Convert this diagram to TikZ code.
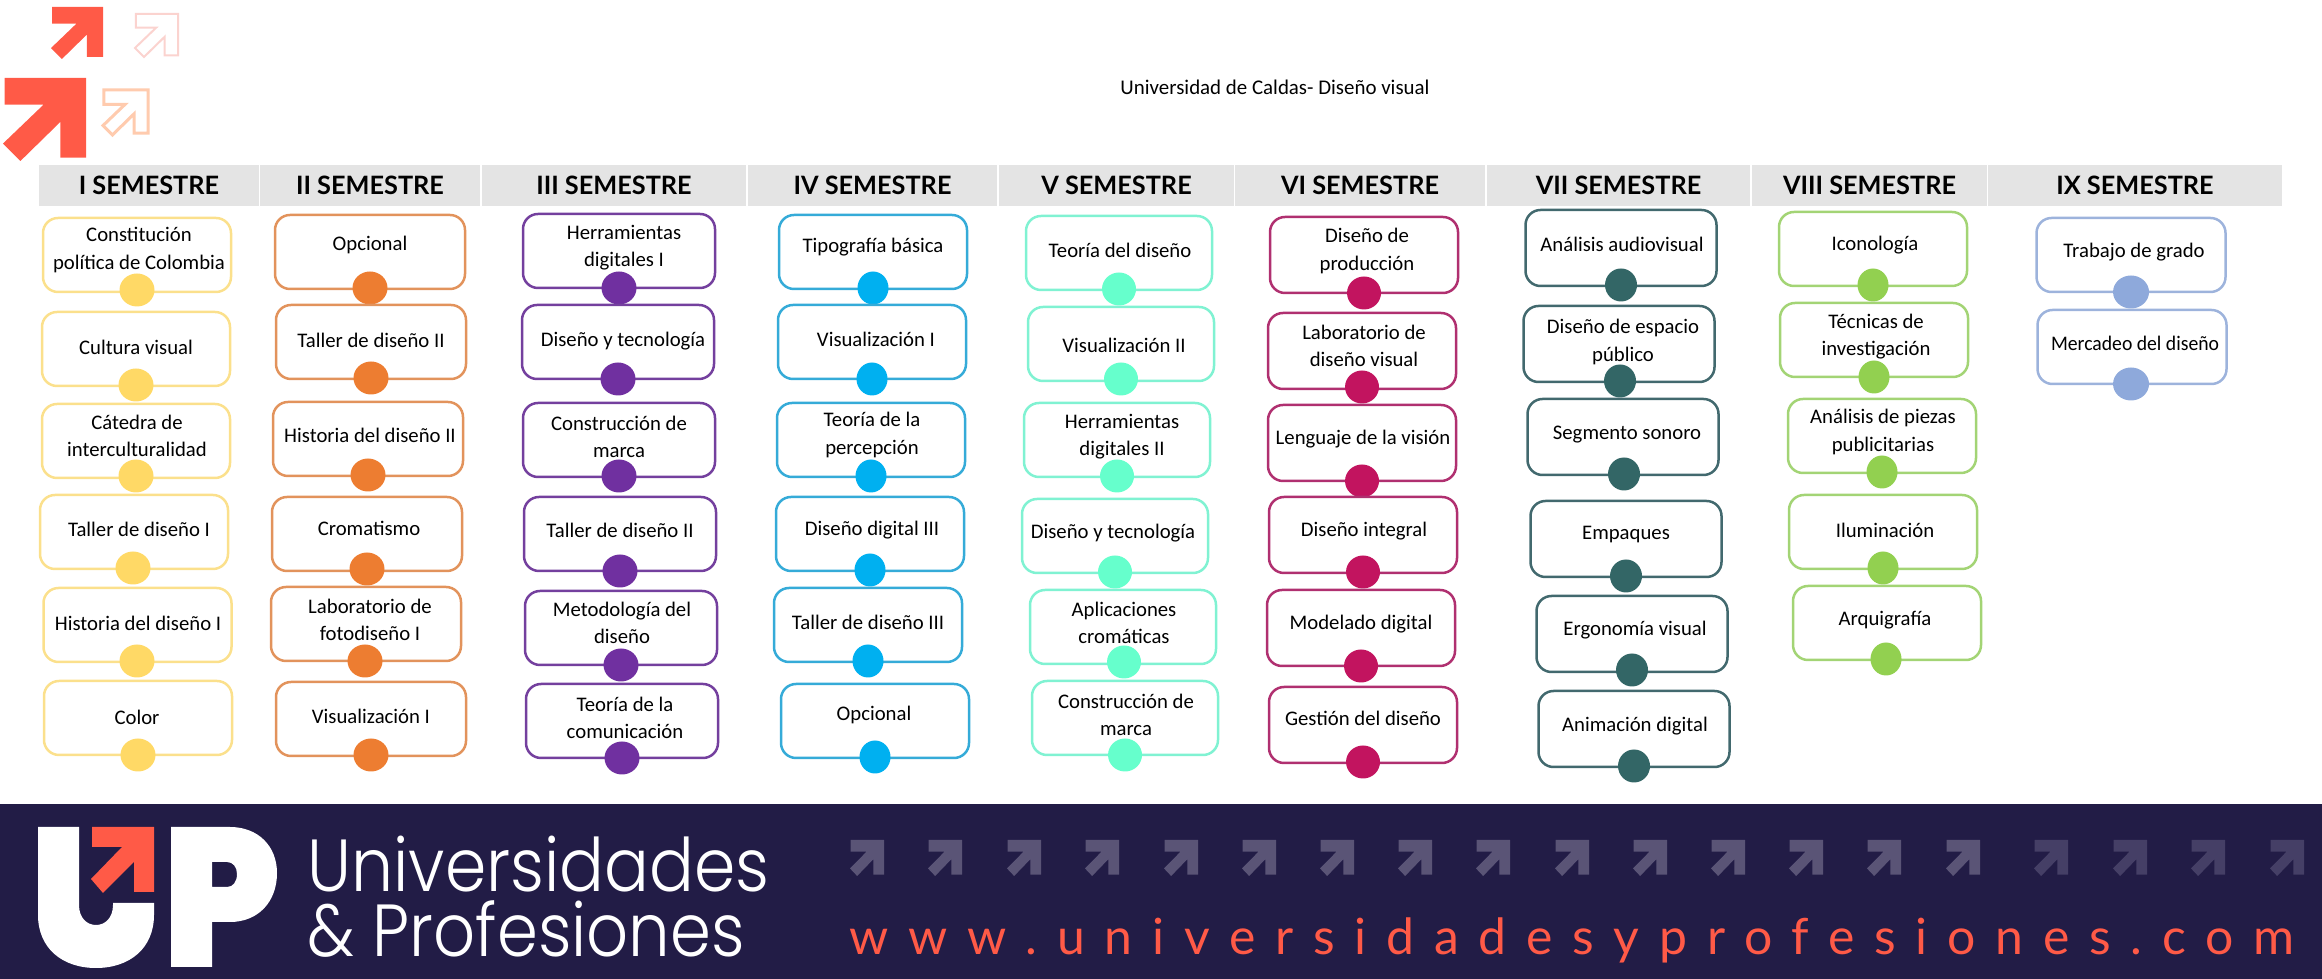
\documentclass[tikz,border=0pt]{standalone}
\usepackage{fontspec}
\setmainfont{Carlito}
\newfontfamily\headfont{Lato}
\newfontfamily\logofont{Poppins Light}
\newfontfamily\webfont[LetterSpace=39.7]{Lato}
\usetikzlibrary{shapes.geometric}

\definecolor{headgrey}{HTML}{E4E4E4}
\definecolor{arrowred}{HTML}{FF5A47}
\definecolor{barblue}{HTML}{221C46}
\definecolor{palepink}{HTML}{FBD3CF}
\definecolor{palepeach}{HTML}{FFCBAE}
\definecolor{barlight}{HTML}{5A5476}
\definecolor{bardim}{HTML}{453F66}
\definecolor{edgeA}{HTML}{FBE08C}\definecolor{dotA}{HTML}{FFD966}
\definecolor{edgeB}{HTML}{E2935C}\definecolor{dotB}{HTML}{ED7D31}
\definecolor{edgeC}{HTML}{74409E}\definecolor{dotC}{HTML}{7030A0}
\definecolor{edgeD}{HTML}{35ABD8}\definecolor{dotD}{HTML}{00B0F0}
\definecolor{edgeE}{HTML}{80F2D2}\definecolor{dotE}{HTML}{66FFCC}
\definecolor{edgeF}{HTML}{B03070}\definecolor{dotF}{HTML}{C2145F}
\definecolor{edgeG}{HTML}{42696E}\definecolor{dotG}{HTML}{336666}
\definecolor{edgeH}{HTML}{A3D475}\definecolor{dotH}{HTML}{92D050}
\definecolor{edgeI}{HTML}{9DB3DC}\definecolor{dotI}{HTML}{8EA9DB}

\tikzset{
  headcell/.style={fill=headgrey, minimum height=4.1mm, inner sep=0pt,
    font=\headfont\bfseries\fontsize{7.2}{8}\selectfont},
  coursebox/.style={draw=#1, line width=0.25mm, rounded corners=1.5mm, inner sep=0pt},
  coursetext/.style={align=center, inner sep=0pt,
    font=\fontsize{5.9}{7.7}\selectfont},
  coursedot/.style={ellipse, fill=#1, inner sep=0pt, minimum height=3.3mm},
  uparrow/.pic={
    \path[pic actions] (2,0) -- (100,0) -- (100,96) -- (69,96) -- (69,53)
      -- (21,100) -- (0,79) -- (49,32) -- (2,32) -- cycle;
  }
}

% name, edge colour, dot colour, box width, box height, dot width, courses
\newcommand{\semesterboxes}[7]{
  \foreach \bx/\by/\dx/\dy/\tx/\ty/\lab [count=\i] in {#7} {
    \node[coursebox=#2, minimum width=#4*0.1mm, minimum height=#5*0.1mm] (#1box\i) at (\bx,\by) {};
    \node[coursetext] (#1text\i) at (\tx,\ty) {\lab};
    \node[coursedot=#3, minimum width=#6*0.1mm] (#1dot\i) at (\dx,\dy) {};
  }
}

\begin{document}
\begin{tikzpicture}[x=0.1mm,y=-0.1mm]
  \useasboundingbox (0,0) rectangle (2322,979);

  % corner arrows
  \pic[fill=arrowred, scale=.52] at (51,7) {uparrow};
  \pic[fill=arrowred, scale=.83] at (3,78) {uparrow};
  \pic[draw=palepink, line width=0.2mm, fill=white, scale=.43] at (135,14) {uparrow};
  \pic[draw=palepeach, line width=0.3mm, fill=white, scale=.45] at (103,90) {uparrow};

  \node[font=\fontsize{5.95}{7.7}\selectfont] (title) at (1275,87) {Universidad de Caldas- Diseño visual};

  % semester heads
  \foreach \cx/\cw/\lab [count=\i] in {149/220/I, 370/220/II, 614/264/III, 872.5/249/IV,
      1116.5/235/V, 1360/250/VI, 1618.5/263/VII, 1869.5/235/VIII, 2135/294/IX} {
    \node[headcell, minimum width=\cw*0.1mm] (head\i) at (\cx,185.5) {\lab\ SEMESTRE};
  }

  \semesterboxes{one}{edgeA}{dotA}{188}{74}{35}{
    137/255/137/290/139/250/{Constitución\\política de Colombia},
    136/349/136/385/136/347/Cultura visual,
    136/441/136/476/137/436/{Cátedra de\\interculturalidad},
    134/532/133/568/139/529/Taller de diseño I,
    137.5/625/137/661/138/623/Historia del diseño I,
    138/718/138/755/137/717/Color}

  \semesterboxes{two}{edgeB}{dotB}{190}{74}{35}{
    370/252/370/288/370/245/Opcional,
    371/342/371/378/371/340/Taller de diseño II,
    368/439/368/475/370/435/Historia del diseño II,
    367/534/367/569/369/528/Cromatismo,
    366/624/365/661/370/620/{Laboratorio de\\fotodiseño I},
    371/719/371/755/371/716/Visualización I}

  \semesterboxes{three}{edgeC}{dotC}{192}{74}{35}{
    619/251/619/288/624/248/{Herramientas\\digitales I},
    618/342/618/379/623/341/Diseño y tecnología,
    619/440/619/476/619/437/{Construcción de\\marca},
    620/534/620/571/620/530/Taller de diseño II,
    621/628/621/665/622/623/{Metodología del\\diseño},
    622/721/622/758/625/718/{Teoría de la\\comunicación}}

  \semesterboxes{four}{edgeD}{dotD}{188}{74}{31}{
    873/252/873/288/873/247/Tipografía básica,
    872/342/872/379/876/339/Visualización I,
    871/440/871/476/872/435/{Teoría de la\\percepción},
    870/534/870/570/872/530/Diseño digital III,
    868/625/868/661/868/622/Taller de diseño III,
    875/721/875/757/874/715/Opcional}

  \semesterboxes{five}{edgeE}{dotE}{186}{74}{34}{
    1119/253/1119/289/1120/250/Teoría del diseño,
    1121/344/1121/379/1124/345/Visualización II,
    1117/440/1117/476/1122/437/{Herramientas\\digitales II},
    1115/536/1115/572/1113/533/Diseño y tecnología,
    1123/627/1124/662/1124/623/{Aplicaciones\\cromáticas},
    1125/718/1125/755/1126/715/{Construcción de\\marca}}

  \semesterboxes{six}{edgeF}{dotF}{188}{76}{34}{
    1364/255/1364/293/1367/251/{Diseño de\\producción},
    1362/351/1362/387/1364/346/{Laboratorio de\\diseño visual},
    1362/443/1362/481/1363/439/Lenguaje de la visión,
    1363/535/1363/572/1364/531/Diseño integral,
    1361/628/1361/666/1361/624/Modelado digital,
    1363/725/1363/762/1363/718/Gestión del diseño}

  \semesterboxes{seven}{edgeG}{dotG}{191}{76}{32}{
    1621/248/1621/285/1622/244/Análisis audiovisual,
    1619/344/1620/381/1623/342/{Diseño de espacio\\público},
    1623/437/1624/474/1627/435/Segmento sonoro,
    1626/539/1626/576/1626/535/Empaques,
    1632/634/1632/670/1635/630/Ergonomía visual,
    1634/729/1634/766/1635/726/Animación digital}

  \semesterboxes{eight}{edgeH}{dotH}{188}{74}{31}{
    1873/249/1873/285/1875/245/Iconología,
    1874/340/1874/377/1876/337/{Técnicas de\\investigación},
    1882/436/1882/472/1883/432/{Análisis de piezas\\publicitarias},
    1883/532/1883/568/1885/530/Iluminación,
    1887/623/1886/659/1885/620/Arquigrafía}

  \semesterboxes{nine}{edgeI}{dotI}{189}{74}{36}{
    2131/255/2131/292/2134/252/Trabajo de grado,
    2132/347/2131/384/2135/343/\scalebox{.95}[1]{Mercadeo del diseño}}

  % bottom band
  \fill[barblue] (0,804) rectangle (2322,979);
  % logo
  \fill[white] (38,827) -- (79,827) -- (79,905) .. controls (79,918) and (87,925) .. (96,925)
    .. controls (105,925) and (113,918) .. (113,905) -- (113,903) -- (154,903) -- (154,915)
    .. controls (154,948) and (130,968) .. (96,968) .. controls (62,968) and (38,948) .. (38,915) -- cycle;
  \fill[arrowred] (92,827) -- (154,827) -- (154,892) -- (134,892) -- (134,862) -- (103,893)
    -- (91,879) -- (122,847) -- (92,847) -- cycle;
  \fill[white,even odd rule] (171,827) -- (230,827) .. controls (258,827) and (277,846) .. (277,873)
    .. controls (277,902) and (258,922) .. (230,922) -- (212,922) -- (212,967) -- (171,967) -- cycle
    (212,862) -- (227,862) .. controls (233,862) and (237,867) .. (237,874)
    .. controls (237,882) and (233,887) .. (227,887) -- (212,887) -- cycle;

  \node[anchor=base west, inner sep=0pt, text=white] (brandtop) at (307,892)
    {\logofont\fontsize{21}{24}\selectfont\scalebox{.90}[1]{Universidades}};
  \node[anchor=base west, inner sep=0pt, text=white] (brandlow) at (307,957)
    {\logofont\fontsize{21}{24}\selectfont\scalebox{.89}[1]{\& Profesiones}};

  % arrow strip
  \foreach \ax in {850,928,1007,1085,1164,1242,1320,1398,1476,1555,1633,1711,1789,1867,1946} {
    \pic[fill=barlight, xscale=.34, yscale=.36] at (\ax,840) {uparrow};
  }
  \foreach \ax in {2034,2113,2191,2270} {
    \pic[fill=bardim, xscale=.34, yscale=.36] at (\ax,840) {uparrow};
  }

  \node[anchor=base west, inner sep=0pt, text=arrowred] (website) at (849,955)
    {\webfont\fontsize{14.2}{16}\selectfont www.universidadesyprofesiones.com};
\end{tikzpicture}
\end{document}
